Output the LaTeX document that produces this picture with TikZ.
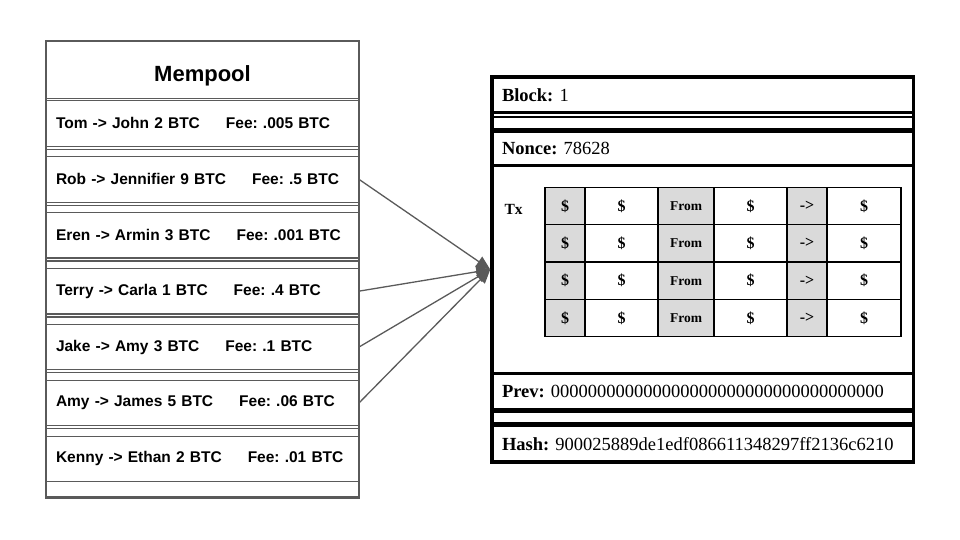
\documentclass[tikz,border=0pt]{standalone}
\usepackage{fontspec}
\setmainfont{Liberation Serif}
\setsansfont{Liberation Sans}
\usetikzlibrary{arrows.meta}
\definecolor{linegray}{HTML}{5A5A5A}
\definecolor{cellgray}{HTML}{DADADA}
\frenchspacing

\begin{document}
\begin{tikzpicture}[x=1pt, y=-1pt]
   \tikzstyle{poolbox}=[draw=linegray, line width=1.2pt, minimum width=313, inner sep=0pt, outer sep=0pt]
   \tikzstyle{rowbox}=[poolbox, minimum height=45.5, inner xsep=10pt, text width=293pt, align=left, font=\sffamily\bfseries\fontsize{15.5}{18}\selectfont]
   \tikzstyle{field}=[draw, line width=3pt, minimum width=421.5, inner sep=0pt, inner xsep=10pt, outer sep=0pt, text width=401.5pt, align=left, font=\fontsize{18.5}{22}\selectfont]
   \tikzstyle{cell}=[draw, line width=1.5pt, minimum height=37.35, inner sep=0pt, outer sep=0pt]
   \tikzstyle{feed}=[draw=linegray, line width=1.3pt, -{Triangle[length=14pt,width=12pt]}]

   \useasboundingbox (0,0) rectangle (960,540);

   % mempool
   \node[poolbox, anchor=north west, minimum height=57.3, text height=24pt, text depth=0pt, font=\sffamily\bfseries\fontsize{22}{26}\selectfont] (title) at (46,41) {Mempool};
   \foreach \i/\txt/\fee in {1/Tom -> John 2 BTC/.005, 2/Rob -> Jennifier 9 BTC/.5, 3/Eren -> Armin 3 BTC/.001,
         4/Terry -> Carla 1 BTC/.4, 5/Jake -> Amy 3 BTC/.1, 6/Amy -> James 5 BTC/.06, 7/Kenny -> Ethan 2 BTC/.01}
      \node[rowbox, anchor=north west] (tx\i) at (46, {100.7+55.9*(\i-1)}) {\txt\hspace{26pt}Fee: \fee{} BTC};
   \foreach \i in {1,...,6}
      \draw[linegray, line width=1.2pt] ([yshift=-3pt]tx\i.south west) -- ([yshift=-3pt]tx\i.south east);
   \node[draw=linegray, line width=2.5pt, minimum width=313, minimum height=456.5, outer sep=0pt, anchor=north west] (mempool) at (46,41) {};

   % block
   \node[field, anchor=north west, minimum height=36] (blk) at (492,77) {\textbf{Block:} 1};
   \node[field, anchor=north west, minimum height=34.5] (nonce) at (492,131.5) {\textbf{Nonce:} 78628};
   \node[field, anchor=north west, minimum height=207] (txs) at (492,166) {};
   \node[field, anchor=north west, minimum height=36] (prev) at (492,373) {\textbf{Prev:} 000000000000000000000000000000000000};
   \node[field, anchor=north west, minimum height=36.5] (hash) at (492,425.5) {\textbf{Hash:} 900025889de1edf086611348297ff2136c6210};
   \draw[line width=1.2pt] (492,117) -- (913.5,117);
   \draw[line width=1.2pt] (492,129) -- (913.5,129);
   \draw[line width=1.2pt] (492,412) -- (913.5,412);
   \draw[line width=1.2pt] (492,423) -- (913.5,423);
   \node[draw, line width=3.5pt, minimum width=421.5, minimum height=385, outer sep=0pt, anchor=north west] (block) at (492,77) {};

   % transactions
   \node[anchor=west, font=\bfseries\fontsize{15.5}{18}\selectfont] (txlabel) at (501,209) {Tx};
   \foreach \r in {0,...,3}
      \foreach \c/\xa/\xb/\txt/\fl/\fs in {1/545/585/\$/cellgray/16, 2/585/658/\$/white/16, 3/658/714/From/cellgray/13.5,
            4/714/787/\$/white/16, 5/787/827/->/cellgray/16, 6/827/901/\$/white/16}
         \node[cell, fill=\fl, minimum width={\xb-\xa}, font=\bfseries\fontsize{\fs}{\fs}\selectfont] (c\r\c) at ({(\xa+\xb)/2}, {187.3+37.35*\r+18.675}) {\txt};

   % mempool to block
   \foreach \i in {2,4,5,6}
      \draw[feed] (tx\i.east) -- ([xshift=-1.75pt]block.west);
\end{tikzpicture}
\end{document}
